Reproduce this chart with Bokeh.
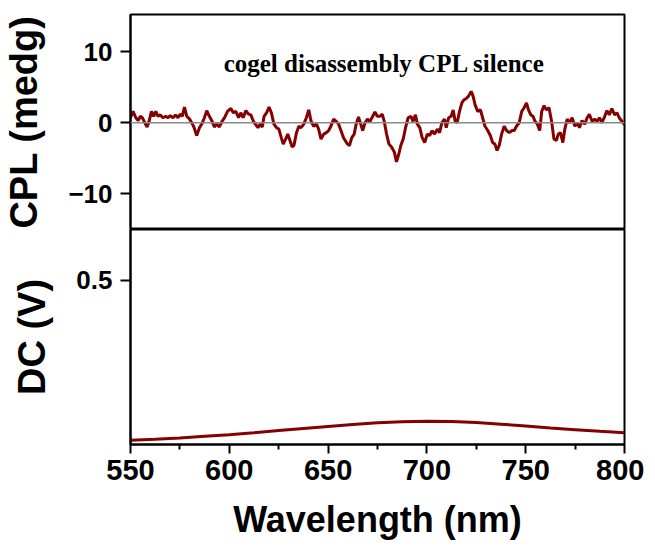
from bokeh.plotting import figure
from bokeh.layouts import column
from bokeh.models import Range1d, FixedTicker, Span, Label
from bokeh.embed import file_html
from bokeh.resources import INLINE

# ---- data ----
cpl_wl = [550.0, 551.3, 552.7, 553.9, 555.0, 556.0, 557.2, 558.4, 559.4, 560.6,
          561.7, 562.8, 563.9, 565.1, 566.4, 567.8, 569.0, 570.1, 571.5, 572.8,
          574.0, 575.2, 576.2, 577.3, 578.5, 579.9, 581.0, 582.2, 583.5, 584.9,
          586.2, 587.4, 588.6, 589.9, 591.3, 592.4, 593.6, 595.0, 596.3, 597.6,
          599.1, 600.8, 602.0, 603.3, 604.7, 605.8, 607.0, 608.4, 609.7, 610.9,
          612.2, 614.5, 615.6, 616.7, 617.6, 618.9, 620.1, 621.3, 622.6, 623.9,
          625.1, 626.3, 627.3, 628.5, 629.6, 630.7, 631.8, 632.7, 634.0, 635.2,
          636.3, 637.7, 639.0, 640.2, 641.4, 642.7, 644.1, 645.2, 646.4, 647.8,
          649.1, 650.3, 651.4, 652.8, 654.1, 655.3, 656.5, 657.8, 659.5, 660.8,
          662.0, 663.2, 664.2, 665.4, 666.5, 667.5, 668.7, 669.9, 671.2, 672.6,
          673.7, 674.9, 676.3, 677.4, 678.4, 679.6, 680.8, 682.1, 683.5, 684.6,
          685.8, 686.8, 688.0, 689.2, 690.5, 691.9, 693.0, 694.2, 695.2, 696.4,
          697.6, 698.9, 700.2, 701.4, 702.6, 703.9, 705.3, 706.4, 707.6, 708.9,
          709.8, 711.0, 712.3, 713.3, 714.3, 715.3, 716.5, 717.7, 718.7, 719.9,
          721.0, 722.4, 723.4, 724.4, 725.7, 727.1, 728.2, 729.4, 730.8, 732.1,
          733.3, 734.4, 735.5, 736.6, 737.8, 739.1, 740.3, 741.7, 743.0, 744.2,
          745.3, 746.7, 748.0, 749.2, 750.4, 751.4, 752.6, 753.7, 754.7, 755.9,
          757.1, 758.1, 759.3, 760.4, 761.8, 763.1, 764.3, 765.5, 766.5, 767.6,
          768.8, 769.8, 771.0, 772.2, 773.5, 774.9, 776.0, 777.2, 778.5, 779.9,
          781.1, 782.2, 783.6, 784.9, 786.1, 787.3, 788.6, 790.0, 791.1, 792.3,
          793.6, 795.0, 796.2, 797.3, 798.7, 799.5, 800.0]
cpl_val = [0.7, 1.6, 0.7, 0.3, 0.9, 0.7, 0.0, -0.6, 0.2, 1.6,
           0.9, 1.6, 0.9, 1.1, 0.7, 0.9, 0.7, 1.0, 0.7, 1.1,
           0.7, 1.2, 0.9, 2.2, 0.9, 0.5, 0.0, -0.7, -1.8, -0.7,
           -0.1, 0.7, 1.7, 0.9, 0.2, -0.6, -0.2, -0.6, 0.2, 0.7,
           1.6, 2.0, 1.4, 1.6, 0.7, 1.4, 0.7, 1.7, 1.2, 1.1,
           0.2, -0.7, -0.2, -0.6, 0.9, 1.4, 2.2, 1.4, -0.2, -0.7,
           -0.9, -2.1, -3.0, -2.3, -1.6, -2.5, -3.4, -3.2, -1.4, -0.5,
           -0.7, -0.2, 0.7, 1.8, 0.2, -0.5, -0.2, -0.9, -2.3, -1.6,
           -1.4, -1.1, -0.5, 0.5, 0.2, -0.2, -1.1, -2.1, -2.9, -3.2,
           -2.1, -1.6, -0.2, 0.8, -0.2, -1.1, 0.0, 0.5, 0.2, 0.9,
           1.5, 0.9, 0.9, 1.2, 0.2, -1.6, -3.0, -3.4, -4.1, -5.5,
           -4.4, -3.2, -2.3, -0.7, 0.7, 0.9, 0.2, 1.1, -0.2, -0.7,
           -2.1, -2.8, -1.6, -1.8, -1.1, -1.6, -0.9, -1.4, 0.0, 0.5,
           -0.7, 0.7, 0.9, 1.8, 0.2, 0.0, 1.6, 2.8, 3.2, 3.4,
           3.7, 4.4, 3.7, 2.5, 1.6, 1.8, 0.7, -0.5, -1.1, -1.8,
           -2.8, -3.0, -3.9, -3.2, -1.6, -0.5, -1.1, -1.4, -1.1, -1.1,
           -0.5, 0.0, 1.6, 2.1, 2.8, 1.8, 1.1, 0.9, 0.2, -0.2,
           -1.1, 1.6, 2.4, 1.8, 2.1, 0.2, -2.3, -2.5, -1.6, -1.4,
           -2.8, -0.9, 0.5, 0.0, 0.7, -0.5, 0.0, -0.7, 0.3, -0.2,
           0.7, 1.2, 0.2, 0.5, 0.2, 0.7, 0.0, 0.9, 1.7, 1.1,
           2.0, 1.1, 1.4, 0.7, 0.2, -0.1, -0.3]

dc_wl = [550, 562.5, 575, 587.5, 600, 612.5, 625, 637.5, 650, 662.5, 675,
         687.5, 700, 712.5, 725, 737.5, 750, 762.5, 775, 787.5, 800]
dc_val = [0.013, 0.016, 0.020, 0.025, 0.030, 0.036, 0.043, 0.049, 0.055, 0.061, 0.066,
          0.069, 0.071, 0.070, 0.067, 0.062, 0.056, 0.050, 0.045, 0.040, 0.036]

x_ticks = [550, 600, 650, 700, 750, 800]
x_minor = [575, 625, 675, 725, 775]
cpl_ticks = [-10, 0, 10]
dc_ticks = [0.5]

title_text = "cogel disassembly CPL silence"

LINE_COLOR = "#850000"
TICK_FONT = "Liberation Sans"

LB = 127   # left border
RB = 20    # right border
FW = 497   # frame width
FH = 215   # frame height (each panel)
BB = 106   # bottom border

xr = Range1d(550, 800)

def style_axis_common(ax):
    ax.axis_line_width = 2
    ax.axis_line_color = "black"
    ax.major_tick_line_width = 2
    ax.minor_tick_line_width = 2
    ax.major_tick_in = 0
    ax.minor_tick_in = 0
    ax.major_label_text_font = TICK_FONT
    ax.major_label_text_font_style = "bold"
    ax.major_label_text_font_size = "26px"
    ax.major_label_text_color = "black"
    ax.axis_label_text_font = TICK_FONT
    ax.axis_label_text_font_style = "bold"
    ax.axis_label_text_font_size = "38px"
    ax.axis_label_text_color = "black"

# ---- top panel ----
p1 = figure(width=LB + FW + RB, height=14 + FH, x_range=xr, y_range=Range1d(-15, 15.2),
            output_backend="svg", toolbar_location=None,
            min_border_left=LB, min_border_right=RB, min_border_top=14, min_border_bottom=0)
p1.xaxis.visible = False
p1.grid.visible = False
p1.outline_line_color = "black"
p1.outline_line_width = 2
p1.outline_line_alpha = 1
style_axis_common(p1.yaxis[0])
p1.yaxis.ticker = FixedTicker(ticks=cpl_ticks)
p1.yaxis.minor_tick_line_color = None
p1.yaxis.major_tick_out = 10
p1.yaxis.major_label_standoff = 8
p1.yaxis.axis_label = "CPL (medg)"
p1.yaxis.axis_label_standoff = 20

p1.add_layout(Span(location=0, dimension="width", line_color="#8a8a8a", line_width=1.5))
p1.line(cpl_wl, cpl_val, line_color=LINE_COLOR, line_width=3)
p1.add_layout(Label(x=678.5, y=8.3, text=title_text, text_align="center",
                    text_baseline="alphabetic", text_font="Liberation Serif",
                    text_font_style="bold", text_font_size="25px", text_color="black"))

# ---- bottom panel ----
p2 = figure(width=LB + FW + RB, height=FH + BB, x_range=xr, y_range=Range1d(0, 0.655),
            output_backend="svg", toolbar_location=None,
            min_border_left=LB, min_border_right=RB, min_border_top=0, min_border_bottom=BB)
p2.grid.visible = False
p2.outline_line_color = "black"
p2.outline_line_width = 2
p2.outline_line_alpha = 1
style_axis_common(p2.yaxis[0])
style_axis_common(p2.xaxis[0])
p2.yaxis.ticker = FixedTicker(ticks=dc_ticks)
p2.yaxis.minor_tick_line_color = None
p2.yaxis.major_tick_out = 10
p2.yaxis.major_label_standoff = 8
p2.yaxis.axis_label = "DC (V)"
p2.yaxis.axis_label_standoff = 20
p2.xaxis.ticker = FixedTicker(ticks=x_ticks, minor_ticks=x_minor)
p2.xaxis.major_tick_out = 9
p2.xaxis.minor_tick_out = 5
p2.xaxis.major_label_text_font_size = "29px"
p2.xaxis.major_label_standoff = 6
p2.xaxis.axis_label = "Wavelength (nm)"
p2.xaxis.axis_label_text_font_size = "36px"
p2.xaxis.axis_label_standoff = 16

p2.line(dc_wl, dc_val, line_color=LINE_COLOR, line_width=3)

layout = column(p1, p2, spacing=0)
open("out.html", "w").write(file_html(layout, INLINE))
